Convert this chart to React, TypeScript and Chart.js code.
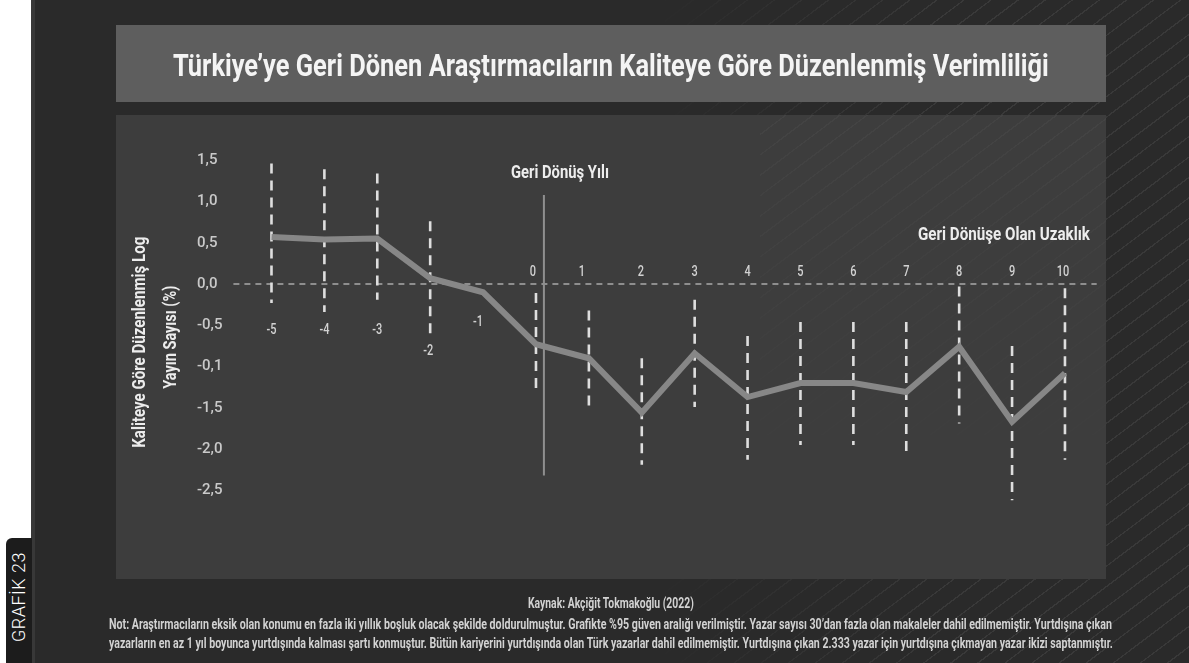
import React, { useEffect, useLayoutEffect, useRef, useState } from 'react';
import { Chart, registerables } from 'chart.js';

Chart.register(...registerables);

// ---------- data ----------
const years = [-5, -4, -3, -2, -1, 0, 1, 2, 3, 4, 5, 6, 7, 8, 9, 10];
const xTickLabels = ['-5', '-4', '-3', '-2', '-1', '0', '1', '2', '3', '4', '5', '6', '7', '8', '9', '10'];
const productivity = [0.57, 0.54, 0.55, 0.07, -0.1, -0.73, -0.9, -1.56, -0.84, -1.37, -1.2, -1.2, -1.31, -0.76, -1.67, -1.08];
const ciUpper = [1.46, 1.39, 1.34, 0.76, null, -0.11, -0.32, -0.9, -0.19, -0.63, -0.46, -0.46, -0.46, -0.03, -0.75, -0.05];
const ciLower = [-0.23, -0.34, -0.19, -0.66, null, -1.31, -1.51, -2.19, -1.49, -2.13, -1.95, -1.95, -2.11, -1.69, -2.62, -2.13];
const yTickLabels = ['-2,5', '-2,0', '-1,5', '-0,1', '-0,5', '0,0', '0,5', '1,0', '1,5'];
const returnLineX = [0.15, 0.15];
const returnLineY = [1.08, -2.32];
const xAxisRange = [-5.72, 10.6];
const yAxisRange = [-2.5, 1.5];

const titleText = 'Türkiye’ye Geri Dönen Araştırmacıların Kaliteye Göre Düzenlenmiş Verimliliği';
const yTitleLines = ['Kaliteye Göre Düzenlenmiş Log', 'Yayın Sayısı (%)'];
const returnYearText = 'Geri Dönüş Yılı';
const distanceText = 'Geri Dönüşe Olan Uzaklık';
const sourceText = 'Kaynak: Akçiğit Tokmakoğlu (2022)';
const noteLines = [
  'Not: Araştırmacıların eksik olan konumu en fazla iki yıllık boşluk olacak şekilde doldurulmuştur. Grafikte %95 güven aralığı verilmiştir. Yazar sayısı 30’dan fazla olan makaleler dahil edilmemiştir. Yurtdışına çıkan',
  'yazarların en az 1 yıl boyunca yurtdışında kalması şartı konmuştur. Bütün kariyerini yurtdışında olan Türk yazarlar dahil edilmemiştir. Yurtdışına çıkan 2.333 yazar için yurtdışına çıkmayan yazar ikizi saptanmıştır.',
];
const sideTabText = 'GRAFİK 23';

const FONT = 'Roboto, "Noto Sans", sans-serif';

// ---------- helpers ----------
function drawScaled(ctx: CanvasRenderingContext2D, text: string, x: number, y: number, sx: number, align: CanvasTextAlign) {
  ctx.save();
  ctx.translate(x, y);
  ctx.scale(sx, 1);
  ctx.textAlign = align;
  ctx.fillText(text, 0, 0);
  ctx.restore();
}

function drawFit(ctx: CanvasRenderingContext2D, text: string, x: number, y: number, width: number, align: CanvasTextAlign, rotate = 0) {
  const w = ctx.measureText(text).width || 1;
  ctx.save();
  ctx.translate(x, y);
  if (rotate) ctx.rotate(rotate);
  ctx.scale(width / w, 1);
  ctx.textAlign = align;
  ctx.fillText(text, 0, 0);
  ctx.restore();
}

const textPlugin = {
  id: 'chartTexts',
  afterDraw(chart: any) {
    const { ctx, scales } = chart;
    const xs = scales.x;
    const ys = scales.y;
    const zero = ys.getPixelForValue(0);
    ctx.save();
    ctx.textBaseline = 'middle';

    // x category labels
    ctx.fillStyle = '#d2d2d2';
    ctx.font = `500 14px ${FONT}`;
    const w10 = ctx.measureText('10').width || 1;
    const sx = 12.5 / w10;
    years.forEach((yr, i) => {
      let px = xs.getPixelForValue(yr);
      let py: number;
      if (yr === -1) { px -= 5; py = zero + 38; }
      else if (yr === -2) { px -= 2; py = zero + 67; }
      else if (yr < -2) { py = zero + 46; }
      else {
        py = zero - 12;
        if (yr === 0) px -= 3;
        if (yr === 1) px -= 7;
        if (yr === 2) px -= 1;
        if (yr === 10) px -= 2;
      }
      drawScaled(ctx, xTickLabels[i], px, py, sx, 'center');
    });

    // annotations
    ctx.fillStyle = '#ededed';
    ctx.font = `bold 18px ${FONT}`;
    const rx = xs.getPixelForValue(returnLineX[0]);
    const rTop = ys.getPixelForValue(returnLineY[0]);
    drawFit(ctx, returnYearText, rx + 16, rTop - 21, 98, 'center');
    drawFit(ctx, distanceText, xs.getPixelForValue(10) + 25, zero - 49, 172, 'right');

    // y axis title (two rotated lines)
    const midY = (chart.chartArea.top + chart.chartArea.bottom) / 2;
    ctx.font = `bold 18px ${FONT}`;
    ctx.fillStyle = '#ececec';
    drawFit(ctx, yTitleLines[0], ys.left - 57, midY + 17, 211, 'center', -Math.PI / 2);
    drawFit(ctx, yTitleLines[1], ys.left - 25.5, midY + 12, 103, 'center', -Math.PI / 2);

    ctx.restore();
  },
};

function FitText({ text, width, style }: { text: string; width: number; style: React.CSSProperties }) {
  const ref = useRef<HTMLSpanElement>(null);
  const [sx, setSx] = useState(1);
  useLayoutEffect(() => {
    if (ref.current) {
      const w = ref.current.offsetWidth;
      if (w) setSx(width / w);
    }
  }, [text, width]);
  return (
    <span
      ref={ref}
      style={{
        display: 'inline-block',
        whiteSpace: 'nowrap',
        transform: `scaleX(${sx})`,
        transformOrigin: 'left center',
        ...style,
      }}
    >
      {text}
    </span>
  );
}

function ChartCanvas() {
  const ref = useRef<HTMLCanvasElement>(null);
  useEffect(() => {
    if (!ref.current) return;
    const datasets: any[] = [];
    datasets.push({
      label: 'Verimlilik',
      data: years.map((x, i) => ({ x, y: productivity[i] })),
      borderColor: '#878787',
      borderWidth: 6,
      borderJoinStyle: 'miter',
      pointRadius: 0,
      clip: false,
    });
    years.forEach((x, i) => {
      const hi = ciUpper[i];
      const lo = ciLower[i];
      if (hi === null || lo === null) return;
      datasets.push({
        label: 'CI ' + x,
        data: [{ x, y: hi }, { x, y: lo }],
        borderColor: '#dedede',
        borderWidth: 2.6,
        borderDash: [10, 7],
        pointRadius: 0,
        clip: false,
      });
    });
    datasets.push({
      label: 'Geri Dönüş Yılı',
      data: returnLineX.map((x, i) => ({ x, y: returnLineY[i] })),
      borderColor: '#8f8f8f',
      borderWidth: 2,
      pointRadius: 0,
      clip: false,
    });
    datasets.push({
      label: 'Sıfır',
      data: xAxisRange.map((x) => ({ x, y: 0 })),
      borderColor: '#a9a9a9',
      borderWidth: 1.6,
      borderDash: [6, 5],
      pointRadius: 0,
      clip: false,
    });

    const chart = new Chart(ref.current, {
      type: 'line',
      data: { datasets },
      options: {
        animation: false,
        responsive: false,
        events: [],
        layout: { padding: { left: 197, right: 92.3, top: 160.25, bottom: 172.75 } },
        plugins: { legend: { display: false }, tooltip: { enabled: false } },
        scales: {
          x: { type: 'linear', min: xAxisRange[0], max: xAxisRange[1], display: false },
          y: {
            type: 'linear',
            min: yAxisRange[0],
            max: yAxisRange[1],
            position: 'left',
            grid: { display: false, drawTicks: false },
            border: { display: false },
            ticks: {
              stepSize: 0.5,
              crossAlign: 'far',
              padding: 0,
              color: '#c9c9c9',
              font: { family: FONT, size: 15, weight: '500' },
              callback: (_v: any, i: number) => yTickLabels[i],
            },
            afterFit: (s: any) => {
              s.width = 36.4;
            },
          },
        },
      } as any,
      plugins: [textPlugin],
    });
    return () => chart.destroy();
  }, []);
  return (
    <canvas
      ref={ref}
      width={1189}
      height={663}
      style={{ position: 'absolute', left: 0, top: 0, width: 1189, height: 663 }}
    />
  );
}

export default function App() {
  const stripes =
    'repeating-linear-gradient(143deg, rgba(255,255,255,0) 0px, rgba(255,255,255,0) 15px, rgba(255,255,255,0.07) 15px, rgba(255,255,255,0.07) 16.3px)';
  return (
    <div
      style={{
        position: 'absolute',
        left: 0,
        top: 0,
        width: 1189,
        height: 663,
        overflow: 'hidden',
        background: '#ffffff',
        fontFamily: FONT,
      }}
    >
      {/* main dark background */}
      <div style={{ position: 'absolute', left: 32, top: 0, width: 1157, height: 663, background: '#2a2a2a' }} />
      <div style={{ position: 'absolute', left: 31, top: 0, width: 4, height: 663, background: '#383838' }} />
      {/* decorative diagonal lines */}
      <div
        style={{
          position: 'absolute',
          left: 640,
          top: 0,
          width: 549,
          height: 663,
          backgroundImage: stripes,
          WebkitMaskImage: 'linear-gradient(to right, rgba(0,0,0,0) 0%, rgba(0,0,0,1) 55%)',
          maskImage: 'linear-gradient(to right, rgba(0,0,0,0) 0%, rgba(0,0,0,1) 55%)',
        }}
      />
      {/* side tab */}
      <div
        style={{
          position: 'absolute',
          left: 6,
          top: 538,
          width: 26,
          height: 125,
          background: '#1c1c1c',
          borderTopLeftRadius: 6,
        }}
      />
      <div
        style={{
          position: 'absolute',
          left: 18.5,
          top: 597,
          transform: 'translate(-50%, -50%) rotate(-90deg)',
          color: '#ffffff',
          fontSize: 18,
          fontWeight: 300,
          lineHeight: '18px',
          whiteSpace: 'nowrap',
          letterSpacing: 0.5,
        }}
      >
        {sideTabText}
      </div>
      {/* title box */}
      <div style={{ position: 'absolute', left: 116, top: 25, width: 990, height: 77, background: '#5e5e5e' }} />
      <div style={{ position: 'absolute', left: 173, top: 49.4, lineHeight: '32px', height: 32 }}>
        <FitText text={titleText} width={876} style={{ fontSize: 32, fontWeight: 700, color: '#f4f4f4', lineHeight: '32px' }} />
      </div>
      {/* chart panel */}
      <div style={{ position: 'absolute', left: 116, top: 115, width: 990, height: 464, background: '#3d3d3d' }} />
      <div
        style={{
          position: 'absolute',
          left: 760,
          top: 115,
          width: 346,
          height: 464,
          backgroundImage: stripes,
          opacity: 0.45,
          WebkitMaskImage: 'linear-gradient(to bottom, rgba(0,0,0,1) 0%, rgba(0,0,0,0) 80%)',
          maskImage: 'linear-gradient(to bottom, rgba(0,0,0,1) 0%, rgba(0,0,0,0) 80%)',
        }}
      />
      <ChartCanvas />
      {/* footer */}
      <div style={{ position: 'absolute', left: 528, top: 603 - 6.8, lineHeight: '14px', height: 14 }}>
        <FitText text={sourceText} width={166} style={{ fontSize: 14, fontWeight: 700, color: '#d2d2d2', lineHeight: '14px' }} />
      </div>
      <div style={{ position: 'absolute', left: 109, top: 623.3 - 6.8, lineHeight: '14px', height: 14 }}>
        <FitText text={noteLines[0]} width={1003} style={{ fontSize: 14, fontWeight: 700, color: '#d2d2d2', lineHeight: '14px' }} />
      </div>
      <div style={{ position: 'absolute', left: 109, top: 643 - 6.8, lineHeight: '14px', height: 14 }}>
        <FitText text={noteLines[1]} width={1004} style={{ fontSize: 14, fontWeight: 700, color: '#d2d2d2', lineHeight: '14px' }} />
      </div>
    </div>
  );
}
